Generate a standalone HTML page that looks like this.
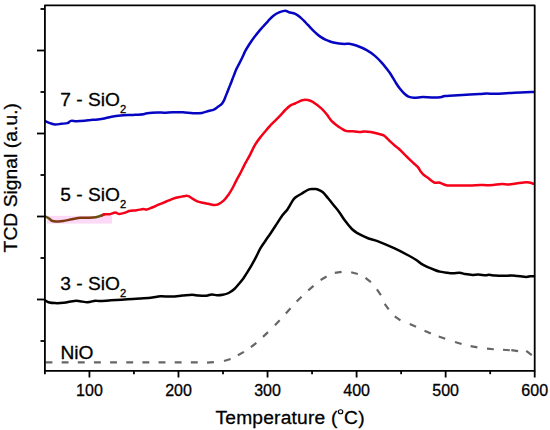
<!DOCTYPE html>
<html><head><meta charset="utf-8"><style>
html,body{margin:0;padding:0;background:#fff;}
svg{display:block;font-family:"Liberation Sans",sans-serif;}
</style></head><body>
<svg width="550" height="430" viewBox="0 0 550 430">
<defs><linearGradient id="brn" gradientUnits="userSpaceOnUse" x1="44" y1="0" x2="104.5" y2="0">
<stop offset="0" stop-color="#5a5512"/><stop offset="0.09" stop-color="#6e4a12"/><stop offset="0.15" stop-color="#80380e"/><stop offset="0.8" stop-color="#80380e"/><stop offset="0.87" stop-color="#645212"/><stop offset="0.95" stop-color="#6a5010"/><stop offset="1" stop-color="#f50018"/></linearGradient></defs>
<rect x="0" y="0" width="550" height="430" fill="#fff"/>
<rect x="47" y="215.8" width="65" height="7.8" fill="#fcd9f7"/>
<g fill="none" stroke-linejoin="round" stroke-linecap="round">
<path d="M45.50,362.40L52.40,362.40M61.65,362.40L68.55,362.40M77.80,362.40L84.70,362.40M93.95,362.40L100.85,362.40M110.10,362.40L117.00,362.40M126.25,362.40L133.15,362.40M142.40,362.40L149.30,362.40M158.55,362.40L165.45,362.40M174.70,362.40L181.60,362.40M190.85,362.40L197.75,362.40M207.01,362.65L213.89,362.15M223.99,360.96L230.61,359.04M237.90,355.30L243.90,351.90M250.87,347.22L256.33,342.98M262.99,336.87L268.01,332.13M274.91,325.19L279.69,320.21M285.86,313.43L290.54,308.37M296.66,301.54L301.54,296.66M308.28,290.44L313.52,285.96M320.61,279.93L326.59,276.47M334.80,272.96L341.60,271.84M351.16,272.25L357.84,273.95M365.49,277.87L370.91,282.13M376.93,289.47L380.87,295.13M384.69,303.80L388.71,309.40M394.80,316.39L400.40,320.41M409.76,323.97L416.04,326.83M424.52,330.77L430.88,333.43M438.75,336.44L445.25,338.76M454.98,342.05L461.62,343.95M470.61,346.18L477.39,347.42M486.97,348.56L493.83,349.24M502.96,349.76L509.84,350.24M511.28,350.15L518.12,351.05M526.24,350.93L531.76,355.07" stroke="#666" stroke-width="2.2" stroke-linecap="butt"/>
<path d="M45.10,300.40 C45.65,300.70 46.77,301.75 48.40,302.20 C50.03,302.65 52.37,303.00 54.90,303.10 C57.43,303.20 60.33,303.17 63.60,302.80 C66.87,302.43 71.77,301.17 74.50,300.90 C77.23,300.63 77.82,300.98 80.00,301.20 C82.18,301.42 85.05,302.28 87.60,302.20 C90.15,302.12 93.23,300.88 95.30,300.70 C97.37,300.52 97.40,301.17 100.00,301.10 C102.60,301.03 107.27,300.53 110.90,300.30 C114.53,300.07 118.17,299.92 121.80,299.70 C125.43,299.48 129.07,299.23 132.70,299.00 C136.33,298.77 140.32,298.55 143.60,298.30 C146.88,298.05 149.58,297.83 152.40,297.50 C155.22,297.17 157.33,296.45 160.50,296.30 C163.67,296.15 167.77,296.72 171.40,296.60 C175.03,296.48 178.85,295.92 182.30,295.60 C185.75,295.28 189.38,294.70 192.10,294.70 C194.82,294.70 196.23,295.42 198.60,295.60 C200.97,295.78 204.12,296.00 206.30,295.80 C208.48,295.60 209.92,294.48 211.70,294.40 C213.48,294.32 215.15,295.23 217.00,295.30 C218.85,295.37 220.87,295.18 222.80,294.80 C224.73,294.42 226.67,293.97 228.60,293.00 C230.53,292.03 232.65,290.55 234.40,289.00 C236.15,287.45 237.58,285.50 239.10,283.70 C240.62,281.90 242.28,279.87 243.50,278.20 C244.72,276.53 245.07,275.83 246.40,273.70 C247.73,271.57 249.90,268.17 251.50,265.40 C253.10,262.63 254.50,259.98 256.00,257.10 C257.50,254.22 258.90,250.87 260.50,248.10 C262.10,245.33 263.88,243.02 265.60,240.50 C267.32,237.98 269.10,235.52 270.80,233.00 C272.50,230.48 274.00,228.17 275.80,225.40 C277.60,222.63 279.67,219.07 281.60,216.40 C283.53,213.73 285.75,211.70 287.40,209.40 C289.05,207.10 290.23,204.53 291.50,202.60 C292.77,200.67 293.35,199.28 295.00,197.80 C296.65,196.32 299.07,195.10 301.40,193.70 C303.73,192.30 306.85,190.17 309.00,189.40 C311.15,188.63 312.97,189.13 314.30,189.10 C315.63,189.07 315.62,188.72 317.00,189.20 C318.38,189.68 320.75,190.48 322.60,192.00 C324.45,193.52 326.25,196.10 328.10,198.30 C329.95,200.50 331.83,202.88 333.70,205.20 C335.57,207.52 337.43,209.63 339.30,212.20 C341.17,214.77 342.80,217.80 344.90,220.60 C347.00,223.40 349.82,226.92 351.90,229.00 C353.98,231.08 355.32,231.83 357.40,233.10 C359.48,234.37 362.42,235.67 364.40,236.60 C366.38,237.53 367.02,237.92 369.30,238.70 C371.58,239.48 373.97,239.72 378.10,241.30 C382.23,242.88 389.02,245.83 394.10,248.20 C399.18,250.57 404.97,253.57 408.60,255.50 C412.23,257.43 413.47,258.23 415.90,259.80 C418.33,261.37 420.05,263.20 423.20,264.90 C426.35,266.60 432.00,268.88 434.80,270.00 C437.60,271.12 438.05,271.15 440.00,271.60 C441.95,272.05 444.32,272.42 446.50,272.70 C448.68,272.98 450.92,273.30 453.10,273.30 C455.28,273.30 457.60,272.58 459.60,272.70 C461.60,272.82 462.92,273.63 465.10,274.00 C467.28,274.37 470.52,274.80 472.70,274.90 C474.88,275.00 476.02,274.55 478.20,274.60 C480.38,274.65 483.98,275.17 485.80,275.20 C487.62,275.23 487.48,274.73 489.10,274.80 C490.72,274.87 493.08,275.43 495.50,275.60 C497.92,275.77 500.88,275.82 503.60,275.80 C506.32,275.78 509.52,275.47 511.80,275.50 C514.08,275.53 514.87,275.77 517.30,276.00 C519.73,276.23 524.28,276.87 526.40,276.90 C528.52,276.93 528.73,276.32 530.00,276.20 C531.27,276.08 533.33,276.20 534.00,276.20" stroke="#000" stroke-width="2.5"/>
<path d="M101.60,215.50 C102.07,215.30 103.03,214.52 104.40,214.30 C105.77,214.08 107.98,214.50 109.80,214.20 C111.62,213.90 113.70,212.53 115.30,212.50 C116.90,212.47 117.63,214.02 119.40,214.00 C121.17,213.98 124.27,212.90 125.90,212.40 C127.53,211.90 127.38,211.37 129.20,211.00 C131.02,210.63 134.43,210.52 136.80,210.20 C139.17,209.88 141.77,209.20 143.40,209.10 C145.03,209.00 145.15,209.87 146.60,209.60 C148.05,209.33 150.10,208.32 152.10,207.50 C154.10,206.68 156.23,205.70 158.60,204.70 C160.97,203.70 164.30,202.32 166.30,201.50 C168.30,200.68 169.25,200.35 170.60,199.80 C171.95,199.25 172.87,198.67 174.40,198.20 C175.93,197.73 177.98,197.38 179.80,197.00 C181.62,196.62 183.85,196.03 185.30,195.90 C186.75,195.77 187.23,195.70 188.50,196.20 C189.77,196.70 191.43,198.05 192.90,198.90 C194.37,199.75 195.67,200.67 197.30,201.30 C198.93,201.93 200.88,202.28 202.70,202.70 C204.52,203.12 206.38,203.43 208.20,203.80 C210.02,204.17 211.97,204.82 213.60,204.90 C215.23,204.98 216.33,205.00 218.00,204.30 C219.67,203.60 221.88,202.27 223.60,200.70 C225.32,199.13 226.85,196.93 228.30,194.90 C229.75,192.87 230.95,190.93 232.30,188.50 C233.65,186.07 235.03,182.92 236.40,180.30 C237.77,177.68 239.23,175.22 240.50,172.80 C241.77,170.38 242.93,167.85 244.00,165.80 C245.07,163.75 245.97,162.18 246.90,160.50 C247.83,158.82 248.25,158.30 249.60,155.70 C250.95,153.10 253.13,148.07 255.00,144.90 C256.87,141.73 258.67,139.45 260.80,136.70 C262.93,133.95 266.27,130.22 267.80,128.40 C269.33,126.58 268.72,127.13 270.00,125.80 C271.28,124.47 273.68,122.22 275.50,120.40 C277.32,118.58 279.27,116.63 280.90,114.90 C282.53,113.17 283.75,111.55 285.30,110.00 C286.85,108.45 288.57,106.68 290.20,105.60 C291.83,104.52 293.55,104.22 295.10,103.50 C296.65,102.78 298.05,101.90 299.50,101.30 C300.95,100.70 301.98,100.00 303.80,99.90 C305.62,99.80 308.40,100.02 310.40,100.70 C312.40,101.38 313.98,102.72 315.80,104.00 C317.62,105.28 319.73,106.98 321.30,108.40 C322.87,109.82 324.03,111.15 325.20,112.50 C326.37,113.85 327.25,115.10 328.30,116.50 C329.35,117.90 330.23,119.53 331.50,120.90 C332.77,122.27 334.25,123.43 335.90,124.70 C337.55,125.97 339.58,127.43 341.40,128.50 C343.22,129.57 344.62,130.62 346.80,131.10 C348.98,131.58 352.32,131.25 354.50,131.40 C356.68,131.55 358.27,132.00 359.90,132.00 C361.53,132.00 362.48,131.42 364.30,131.40 C366.12,131.38 368.62,131.55 370.80,131.90 C372.98,132.25 375.25,132.92 377.40,133.50 C379.55,134.08 382.03,134.53 383.70,135.40 C385.37,136.27 386.15,137.53 387.40,138.70 C388.65,139.87 389.95,141.23 391.20,142.40 C392.45,143.57 393.67,144.68 394.90,145.70 C396.13,146.72 397.37,147.42 398.60,148.50 C399.83,149.58 401.07,150.97 402.30,152.20 C403.53,153.43 404.75,154.67 406.00,155.90 C407.25,157.13 408.72,158.55 409.80,159.60 C410.88,160.65 411.60,161.35 412.50,162.20 C413.40,163.05 414.23,163.80 415.20,164.70 C416.17,165.60 417.38,166.48 418.30,167.60 C419.22,168.72 419.77,170.17 420.70,171.40 C421.63,172.63 422.72,173.93 423.90,175.00 C425.08,176.07 426.48,176.82 427.80,177.80 C429.12,178.78 430.62,180.07 431.80,180.90 C432.98,181.73 433.72,182.53 434.90,182.80 C436.08,183.07 437.72,182.35 438.90,182.50 C440.08,182.65 440.82,183.25 442.00,183.70 C443.18,184.15 444.42,184.90 446.00,185.20 C447.58,185.50 447.65,185.45 451.50,185.50 C455.35,185.55 464.35,185.60 469.10,185.50 C473.85,185.40 477.10,184.95 480.00,184.90 C482.90,184.85 484.32,185.20 486.50,185.20 C488.68,185.20 490.55,185.10 493.10,184.90 C495.65,184.70 499.25,184.08 501.80,184.00 C504.35,183.92 506.03,184.47 508.40,184.40 C510.77,184.33 513.47,183.92 516.00,183.60 C518.53,183.28 521.42,182.68 523.60,182.50 C525.78,182.32 527.45,182.28 529.10,182.50 C530.75,182.72 532.77,183.58 533.50,183.80" stroke="#f50018" stroke-width="2.5"/>
<path d="M45.50,216.60 C45.98,216.83 47.38,217.33 48.40,218.00 C49.42,218.67 50.67,220.05 51.60,220.60 C52.53,221.15 52.83,221.15 54.00,221.30 C55.17,221.45 57.05,221.55 58.60,221.50 C60.15,221.45 61.07,221.37 63.30,221.00 C65.53,220.63 69.10,219.83 72.00,219.30 C74.90,218.77 78.03,218.07 80.70,217.80 C83.37,217.53 85.52,217.80 88.00,217.70 C90.48,217.60 93.33,217.57 95.60,217.20 C97.87,216.83 100.13,215.98 101.60,215.50 C103.07,215.02 103.93,214.50 104.40,214.30" stroke="url(#brn)" stroke-width="2.5"/>
<path d="M45.50,121.20 C46.27,121.52 48.48,122.55 50.10,123.10 C51.72,123.65 53.33,124.38 55.20,124.50 C57.07,124.62 59.27,124.03 61.30,123.80 C63.33,123.57 65.78,123.58 67.40,123.10 C69.02,122.62 69.47,121.22 71.00,120.90 C72.53,120.58 74.32,121.23 76.60,121.20 C78.88,121.17 82.33,120.92 84.70,120.70 C87.07,120.48 89.08,120.07 90.80,119.90 C92.52,119.73 93.03,119.88 95.00,119.70 C96.97,119.52 99.85,119.30 102.60,118.80 C105.35,118.30 108.52,117.25 111.50,116.70 C114.48,116.15 116.88,115.80 120.50,115.50 C124.12,115.20 129.38,115.12 133.20,114.90 C137.02,114.68 141.07,114.48 143.40,114.20 C145.73,113.92 144.87,113.48 147.20,113.20 C149.53,112.92 154.53,112.58 157.40,112.50 C160.27,112.42 161.85,112.75 164.40,112.70 C166.95,112.65 169.62,112.27 172.70,112.20 C175.78,112.13 179.50,112.12 182.90,112.30 C186.30,112.48 189.92,113.20 193.10,113.30 C196.28,113.40 199.43,113.28 202.00,112.90 C204.57,112.52 206.53,111.55 208.50,111.00 C210.47,110.45 212.17,110.35 213.80,109.60 C215.43,108.85 216.97,107.45 218.30,106.50 C219.63,105.55 220.85,104.92 221.80,103.90 C222.75,102.88 223.33,101.73 224.00,100.40 C224.67,99.07 225.20,97.38 225.80,95.90 C226.40,94.42 227.02,92.97 227.60,91.50 C228.18,90.03 228.72,88.57 229.30,87.10 C229.88,85.63 230.57,84.05 231.10,82.70 C231.63,81.35 231.68,81.12 232.50,79.00 C233.32,76.88 235.07,72.20 236.00,70.00 C236.93,67.80 237.05,67.88 238.10,65.80 C239.15,63.72 241.12,59.93 242.30,57.50 C243.48,55.07 244.00,53.45 245.20,51.20 C246.40,48.95 248.00,46.33 249.50,44.00 C251.00,41.67 252.67,39.27 254.20,37.20 C255.73,35.13 257.20,33.38 258.70,31.60 C260.20,29.82 261.60,28.30 263.20,26.50 C264.80,24.70 266.60,22.60 268.30,20.80 C270.00,19.00 271.50,17.13 273.40,15.70 C275.30,14.27 277.72,13.03 279.70,12.20 C281.68,11.37 283.75,10.70 285.30,10.70 C286.85,10.70 287.33,11.68 289.00,12.20 C290.67,12.72 293.37,12.90 295.30,13.80 C297.23,14.70 298.88,16.15 300.60,17.60 C302.32,19.05 304.12,20.98 305.60,22.50 C307.08,24.02 308.22,25.33 309.50,26.70 C310.78,28.07 312.02,29.45 313.30,30.70 C314.58,31.95 315.92,33.13 317.20,34.20 C318.48,35.27 319.73,36.25 321.00,37.10 C322.27,37.95 323.53,38.67 324.80,39.30 C326.07,39.93 327.15,40.37 328.60,40.90 C330.05,41.43 331.78,42.07 333.50,42.50 C335.22,42.93 337.03,43.27 338.90,43.50 C340.77,43.73 342.97,43.87 344.70,43.90 C346.43,43.93 347.37,43.43 349.30,43.70 C351.23,43.97 353.40,44.43 356.30,45.50 C359.20,46.57 363.60,48.37 366.70,50.10 C369.80,51.83 372.37,53.77 374.90,55.90 C377.43,58.03 379.58,60.30 381.90,62.90 C384.22,65.50 387.20,69.40 388.80,71.50 C390.40,73.60 390.38,73.72 391.50,75.50 C392.62,77.28 394.12,80.02 395.50,82.20 C396.88,84.38 398.35,86.72 399.80,88.60 C401.25,90.48 402.75,92.17 404.20,93.50 C405.65,94.83 406.87,95.90 408.50,96.60 C410.13,97.30 411.63,97.62 414.00,97.70 C416.37,97.78 419.78,97.15 422.70,97.10 C425.62,97.05 428.58,97.38 431.50,97.40 C434.42,97.42 438.03,97.43 440.20,97.20 C442.37,96.97 442.95,96.23 444.50,96.00 C446.05,95.77 446.53,95.97 449.50,95.80 C452.47,95.63 457.30,95.28 462.30,95.00 C467.30,94.72 475.47,94.33 479.50,94.10 C483.53,93.87 483.62,93.67 486.50,93.60 C489.38,93.53 492.20,93.85 496.80,93.70 C501.40,93.55 508.33,92.98 514.10,92.70 C519.87,92.42 528.08,92.13 531.40,92.00 C534.72,91.87 533.57,91.92 534.00,91.90" stroke="#0606c2" stroke-width="2.5"/>
</g>
<g stroke="#000" stroke-width="1.8" fill="none" stroke-linejoin="round">
<rect x="44.9" y="5.3" width="489.80" height="365.50"/>
<line x1="40.5" y1="9" x2="44.9" y2="9"/>
<line x1="37" y1="50.5" x2="44.9" y2="50.5"/>
<line x1="40.5" y1="92" x2="44.9" y2="92"/>
<line x1="37" y1="133.5" x2="44.9" y2="133.5"/>
<line x1="40.5" y1="175" x2="44.9" y2="175"/>
<line x1="37" y1="216.5" x2="44.9" y2="216.5"/>
<line x1="40.5" y1="258" x2="44.9" y2="258"/>
<line x1="37" y1="299.5" x2="44.9" y2="299.5"/>
<line x1="40.5" y1="341" x2="44.9" y2="341"/>
<line x1="44.90" y1="370.8" x2="44.90" y2="374.2"/>
<line x1="89.43" y1="370.8" x2="89.43" y2="377.5"/>
<line x1="133.95" y1="370.8" x2="133.95" y2="374.2"/>
<line x1="178.48" y1="370.8" x2="178.48" y2="377.5"/>
<line x1="223.01" y1="370.8" x2="223.01" y2="374.2"/>
<line x1="267.54" y1="370.8" x2="267.54" y2="377.5"/>
<line x1="312.06" y1="370.8" x2="312.06" y2="374.2"/>
<line x1="356.59" y1="370.8" x2="356.59" y2="377.5"/>
<line x1="401.12" y1="370.8" x2="401.12" y2="374.2"/>
<line x1="445.65" y1="370.8" x2="445.65" y2="377.5"/>
<line x1="490.17" y1="370.8" x2="490.17" y2="374.2"/>
<line x1="534.70" y1="370.8" x2="534.70" y2="377.5"/>
</g>
<g font-size="16" fill="#000" stroke="#000" stroke-width="0.3">
<text x="89.43" y="395.5" text-anchor="middle">100</text>
<text x="178.48" y="395.5" text-anchor="middle">200</text>
<text x="267.54" y="395.5" text-anchor="middle">300</text>
<text x="356.59" y="395.5" text-anchor="middle">400</text>
<text x="445.65" y="395.5" text-anchor="middle">500</text>
<text x="534.70" y="395.5" text-anchor="middle">600</text>
</g>
<g font-size="19.2" fill="#000" stroke="#000" stroke-width="0.3">
<text x="60.3" y="105.8">7 - SiO<tspan font-size="11.2" dy="6.9">2</tspan></text>
<text x="60.3" y="201.2">5 - SiO<tspan font-size="11.2" dy="6.9">2</tspan></text>
<text x="60.3" y="290.2">3 - SiO<tspan font-size="11.2" dy="6.9">2</tspan></text>
<text x="60.5" y="358.5">NiO</text>
<text x="215.5" y="424" letter-spacing="0.2">Temperature (</text>
<ellipse cx="340.6" cy="411.7" rx="2.2" ry="2.0" fill="none" stroke="#000" stroke-width="1.15"/>
<text x="344.1" y="424" letter-spacing="0.2">C)</text>
<text transform="translate(17,252.4) rotate(-90)" x="0" y="0" letter-spacing="0.07">TCD Signal (a.u.)</text>
</g>
</svg>
</body></html>
